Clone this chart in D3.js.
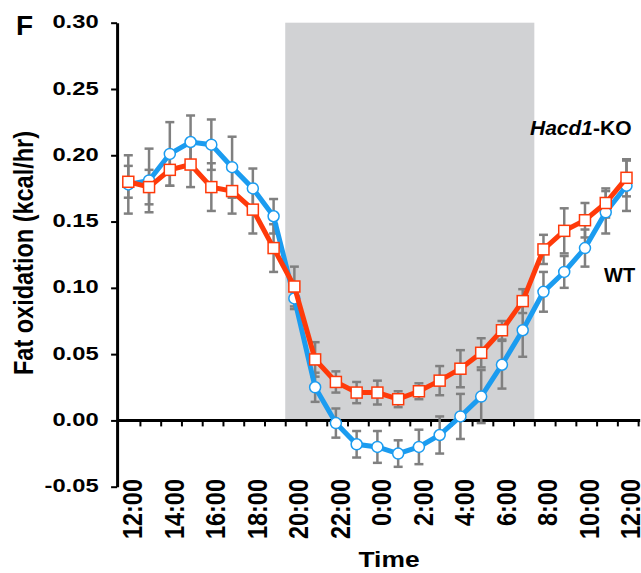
<!DOCTYPE html>
<html lang="en">
<head>
<meta charset="UTF-8">
<title>Fat oxidation</title>
<script src="https://d3js.org/d3.v7.min.js"></script>
<style>
  body { margin: 0; background: #fff; }
  text { font-family: "Liberation Sans", Arial, sans-serif; font-weight: bold; }
</style>
</head>
<body>
<div id="chart"></div>
<script>
// hourly samples, index 0 = 12:00 ... 24 = 12:00 next day
const hours = d3.range(25);
const timeLabels = ["12:00","14:00","16:00","18:00","20:00","22:00","0:00","2:00","4:00","6:00","8:00","10:00","12:00"];
const yTicks = [-0.05, 0, 0.05, 0.10, 0.15, 0.20, 0.25, 0.30];

const wt = [0.178, 0.181, 0.201, 0.210, 0.208, 0.191, 0.175, 0.154, 0.092, 0.025, -0.002, -0.018, -0.020, -0.025, -0.020, -0.011, 0.003, 0.018, 0.042, 0.068, 0.097, 0.112, 0.130, 0.157, 0.177];
const wtErr = [0.022, 0.024, 0.024, 0.020, 0.019, 0.023, 0.015, 0.013, 0.008, 0.011, 0.011, 0.010, 0.012, 0.010, 0.013, 0.014, 0.017, 0.020, 0.018, 0.020, 0.015, 0.012, 0.014, 0.016, 0.019];
const ko = [0.180, 0.176, 0.189, 0.193, 0.176, 0.173, 0.159, 0.130, 0.101, 0.046, 0.029, 0.021, 0.021, 0.016, 0.022, 0.030, 0.039, 0.051, 0.068, 0.090, 0.129, 0.143, 0.151, 0.164, 0.183];
const koErr = [0.012, 0.013, 0.012, 0.017, 0.018, 0.017, 0.018, 0.018, 0.015, 0.013, 0.008, 0.008, 0.009, 0.006, 0.006, 0.011, 0.014, 0.011, 0.007, 0.009, 0.011, 0.017, 0.013, 0.011, 0.014];

// dark phase, in hour-index units (between tick marks)
const darkPhase = [7.56, 19.56];
const tickOffset = 0.56;

const blue = "#1b9cf0", red = "#ff3a0a";

const svg = d3.select("#chart").append("svg")
  .attr("width", 641)
  .attr("height", 573);

const x = d3.scaleLinear().domain([0, 24]).range([128.3, 626.5]);
const y = d3.scaleLinear().domain([-0.05, 0.30]).range([486.7, 22.7]);

// grey band for the dark phase
svg.append("rect")
  .attr("x", x(darkPhase[0]))
  .attr("y", y(0.30))
  .attr("width", x(darkPhase[1]) - x(darkPhase[0]))
  .attr("height", y(0) - y(0.30))
  .attr("fill", "#d1d2d4");

// y axis
const yAxis = svg.append("g")
  .attr("transform", `translate(${x(-0.54)},0)`)
  .call(d3.axisLeft(y).tickValues(yTicks).tickFormat(d => d.toFixed(2)).tickSize(6).tickSizeOuter(0));
yAxis.select(".domain").attr("stroke-width", 3);
yAxis.selectAll(".tick line").attr("stroke-width", 2);
yAxis.selectAll(".tick text")
  .attr("x", -18.5 / 1.32)
  .attr("dy", "0.28em")
  .attr("transform", "scale(1.32,1)")
  .style("font-size", "18px")
  .attr("fill", "#000");

// x axis: hour ticks
const xAxis = svg.append("g")
  .attr("transform", `translate(0,${y(0)})`)
  .call(d3.axisBottom(x).tickValues(hours.slice(0, 25).map(h => h + tickOffset)).tickFormat("").tickSize(6).tickSizeOuter(0));
xAxis.select(".domain").remove();
xAxis.selectAll(".tick line").attr("stroke-width", 2);
xAxis.append("line")
  .attr("x1", x(-0.54)).attr("x2", x(24.66))
  .attr("stroke", "#000").attr("stroke-width", 3);

// x labels (every two hours)
const xLab = svg.append("g")
  .attr("transform", "translate(0,479)")
  .call(d3.axisBottom(x).tickValues(d3.range(0, 25, 2)).tickFormat((d, i) => timeLabels[i]).tickSize(0));
xLab.select(".domain").remove();
xLab.selectAll(".tick text")
  .attr("y", null).attr("dy", null)
  .attr("text-anchor", "end")
  .attr("transform", "translate(13.4,0) rotate(-90) scale(1,1.19)")
  .style("font-size", "23.5px")
  .attr("fill", "#000");

// error bars
function errorBars(vals, errs) {
  const g = svg.append("g").attr("stroke", "#808080").attr("stroke-width", 2.5).attr("fill", "none");
  hours.forEach(i => {
    const x0 = x(i), lo = y(vals[i] - errs[i]), hi = y(vals[i] + errs[i]);
    g.append("line").attr("x1", x0).attr("x2", x0).attr("y1", lo).attr("y2", hi);
    g.append("line").attr("x1", x0 - 4.5).attr("x2", x0 + 4.5).attr("y1", lo).attr("y2", lo);
    g.append("line").attr("x1", x0 - 4.5).attr("x2", x0 + 4.5).attr("y1", hi).attr("y2", hi);
  });
}
errorBars(wt, wtErr);
errorBars(ko, koErr);

const line = d3.line().x((d, i) => x(i)).y(d => y(d));

// WT line + circles
svg.append("path").datum(wt)
  .attr("d", line).attr("fill", "none").attr("stroke", blue).attr("stroke-width", 5);
svg.append("g").selectAll("circle").data(wt).join("circle")
  .attr("cx", (d, i) => x(i)).attr("cy", d => y(d)).attr("r", 5.5)
  .attr("fill", "#fff").attr("stroke", blue).attr("stroke-width", 1.5);

// KO line + squares
svg.append("path").datum(ko)
  .attr("d", line).attr("fill", "none").attr("stroke", red).attr("stroke-width", 5);
svg.append("g").selectAll("rect").data(ko).join("rect")
  .attr("x", (d, i) => x(i) - 5.5).attr("y", d => y(d) - 5.5)
  .attr("width", 11).attr("height", 11)
  .attr("fill", "#fff").attr("stroke", red).attr("stroke-width", 1.5);

// titles
svg.append("text")
  .attr("x", 16).attr("y", 35)
  .style("font-size", "28px")
  .text("F");

svg.append("text")
  .attr("text-anchor", "middle")
  .attr("transform", "translate(33,253) rotate(-90) scale(1,1.19)")
  .style("font-size", "23.5px")
  .text("Fat oxidation (kcal/hr)");

svg.append("text")
  .attr("text-anchor", "middle")
  .attr("transform", "translate(389,567) scale(1.2,1)")
  .style("font-size", "22px")
  .text("Time");

// series labels
const koLab = svg.append("text")
  .attr("x", 530).attr("y", 135)
  .style("font-size", "21px");
koLab.append("tspan").style("font-style", "italic").text("Hacd1");
koLab.append("tspan").text("-KO");

svg.append("text")
  .attr("x", 604).attr("y", 282)
  .style("font-size", "20px")
  .text("WT");
</script>
</body>
</html>
